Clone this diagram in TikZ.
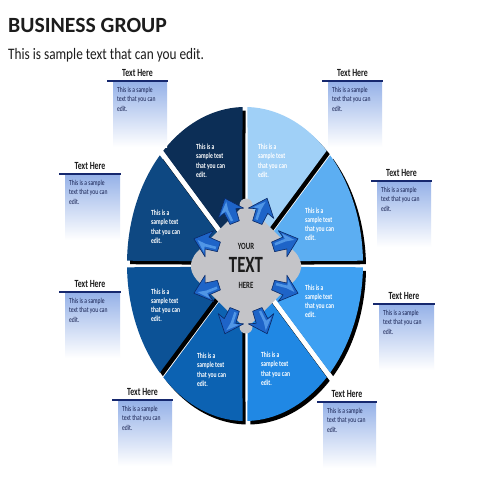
\documentclass[tikz,border=0pt]{standalone}
\usepackage{fontspec}
\setmainfont{Carlito}
\definecolor{secA}{RGB}{92,174,242}
\definecolor{secB}{RGB}{160,208,247}
\definecolor{secC}{RGB}{12,46,86}
\definecolor{secD}{RGB}{14,72,130}
\definecolor{secE}{RGB}{12,82,150}
\definecolor{secF}{RGB}{12,98,178}
\definecolor{secG}{RGB}{32,136,228}
\definecolor{secH}{RGB}{62,160,242}
\definecolor{cgray}{RGB}{196,196,200}
\definecolor{arrblue}{RGB}{30,100,200}
\definecolor{arrlight}{RGB}{80,150,230}
\definecolor{arrdark}{RGB}{10,40,100}
\definecolor{barnavy}{RGB}{22,40,110}
\definecolor{boxblue}{RGB}{150,178,232}
\definecolor{navytext}{RGB}{22,32,80}
\definecolor{titlecol}{RGB}{28,28,28}
\newcommand\mylines[1]{\begin{tabular}[t]{@{}l@{}}#1\end{tabular}}
\begin{document}
\begin{tikzpicture}[x=1pt,y=-1pt,
  sectext/.style={anchor=base west, inner sep=0pt, text=white, font=\fontsize{7.8}{9.3}\selectfont\bfseries, xscale=0.72},
  boxtext/.style={anchor=base west, inner sep=0pt, text=navytext, font=\fontsize{7.6}{9.3}\selectfont, xscale=0.74},
  calltitle/.style={anchor=base, inner sep=0pt, text=titlecol, font=\fontsize{10.9}{12}\selectfont\bfseries, xscale=0.72},
  bar/.style={draw=barnavy, line width=2.6pt},
  centertext/.style={anchor=base, inner sep=0pt, text=titlecol, font=\bfseries, xscale=0.72},
  arrowpiece/.style={fill=arrblue, draw=arrdark, line width=0.6pt, line join=round},
  arrowshine/.style={fill=arrlight}]
\useasboundingbox (0,0) rectangle (480,480);
\fill[white] (0,0) rectangle (480,480);

% title
\node[anchor=base west, inner sep=0pt, text=titlecol, font=\fontsize{21.7}{24}\selectfont\bfseries] (title) at (8,32.5) {BUSINESS GROUP};
\node[anchor=base west, inner sep=0pt, text=titlecol, font=\fontsize{16}{18}\selectfont, xscale=0.83] (subtitle) at (8,59) {This is sample text that can you edit.};

% sectors
\def\cx{245}\def\cy{264}\def\rx{118}\def\ry{157}
\foreach \a in {0,45,...,315} {
  \pgfmathsetmacro\sb{\a+1.2}
  \pgfmathsetmacro\se{\a+43.8}
  \pgfmathsetmacro\bi{\a+22.5}
  \fill[black, shift={(3,3.5)}] ({\cx+7*cos(\bi)},{\cy-7*sin(\bi)}) -- plot[domain=\sb:\se, samples=40] ({\cx+\rx*cos(\x)},{\cy-\ry*sin(\x)}) -- cycle;
}
\foreach \a/\c in {0/secA,45/secB,90/secC,135/secD,180/secE,225/secF,270/secG,315/secH} {
  \pgfmathsetmacro\sb{\a+1.2}
  \pgfmathsetmacro\se{\a+43.8}
  \pgfmathsetmacro\bi{\a+22.5}
  \fill[\c] ({\cx+7*cos(\bi)},{\cy-7*sin(\bi)}) -- plot[domain=\sb:\se, samples=40] ({\cx+\rx*cos(\x)},{\cy-\ry*sin(\x)}) -- cycle;
}

% center shape
\fill[cgray, rounded corners=2pt] (241,208) -- (251,208) -- (297,254) -- (301,262) -- (301,270) -- (297,278) -- (251,324) -- (241,324) -- (195,278) -- (191,270) -- (191,262) -- (195,254) -- cycle;
\fill[cgray, rounded corners=10pt] (219,231) rectangle (273,301);
\fill[cgray] (246,205) circle (6.5);
\fill[cgray] (246,327) circle (6.5);
\foreach \px/\py/\r in {262/211/68, 230/211/112, 285/243/18, 207/243/162, 285/289/-18, 207/289/198, 262/321/-68, 230/321/248} {
  \path[arrowpiece, shift={(\px,\py)}, rotate=\r, scale=1.25] (-10,-4) -- (0,-5) -- (-2,-11) -- (11,0) -- (-2,11) -- (0,5) -- (-10,4) -- cycle;
  \path[arrowshine, shift={(\px,\py)}, rotate=\r, scale=1.25] (-8,-2.5) -- (1,-3.2) -- (0,-8) -- (8,0) -- (1,-1) -- (-8,-0.5) -- cycle;
}
\node[centertext, font=\fontsize{9.5}{10}\selectfont\bfseries] (your) at (246,249.5) {YOUR};
\node[centertext, font=\fontsize{23.3}{24}\selectfont\bfseries] (ctext) at (246,272.7) {TEXT};
\node[centertext, font=\fontsize{9.5}{10}\selectfont\bfseries] (here) at (246,288) {HERE};

% sector texts
\node[sectext] (s1) at (196,149.5) {\mylines{This is a\\sample text\\that you can\\edit.}};
\node[sectext] (s2) at (258,149.5) {\mylines{This is a\\sample text\\that you can\\edit.}};
\node[sectext] (s3) at (151,215.5) {\mylines{This is a\\sample text\\that you can\\edit.}};
\node[sectext] (s4) at (151,294) {\mylines{This is a\\sample text\\that you can\\edit.}};
\node[sectext] (s5) at (305,213) {\mylines{This is a\\sample text\\that you can\\edit.}};
\node[sectext] (s6) at (305,290) {\mylines{This is a\\sample text\\that you can\\edit.}};
\node[sectext] (s7) at (197,358.5) {\mylines{This is a\\sample text\\that you can\\edit.}};
\node[sectext] (s8) at (261,357.5) {\mylines{This is a\\sample text\\that you can\\edit.}};

% callouts
\foreach \n/\l/\r/\y in {a/107/168/81, b/322/383/81, c/59/121/174, d/371/432/181, e/59/121/292, f/373/435/304, g/112/173/400, h/317/377/402} {
  \shade[top color=boxblue, bottom color=white] (\l+6,\y+1) rectangle (\r-1,\y+66);
  \draw[bar] (\l,\y) -- (\r,\y);
  \node[calltitle] (t\n) at ({(\l+\r)/2},\y-5) {Text Here};
  \node[boxtext] (b\n) at (\l+10,\y+11.5) {\mylines{This is a sample\\text that you can\\edit.}};
}
\end{tikzpicture}
\end{document}
